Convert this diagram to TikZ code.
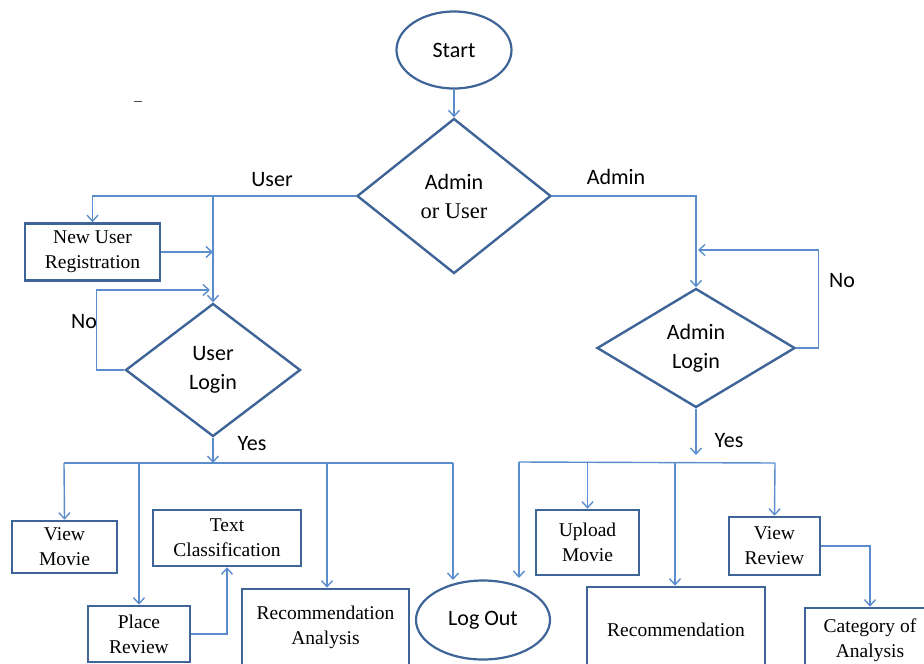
\documentclass[tikz,border=0pt]{standalone}
\usepackage{fontspec}
\setmainfont{Liberation Serif}
\newfontfamily\calib{Carlito}
\usetikzlibrary{shapes.geometric,arrows.meta}
\definecolor{boxblue}{RGB}{62,100,152}
\definecolor{lineblue}{RGB}{91,141,205}
\begin{document}
\begin{tikzpicture}[x=1pt,y=-1pt,
  box/.style={draw=boxblue,line width=2.6pt,rectangle,align=center,inner sep=0pt,font=\fontsize{19.5}{25}\selectfont},
  term/.style={draw=boxblue,line width=2.2pt,ellipse,inner sep=0pt,font=\calib\fontsize{22}{28}\selectfont},
  decide/.style={draw=boxblue,line width=2.4pt,diamond,inner sep=0pt,align=center,font=\calib\fontsize{22}{29}\selectfont},
  flow/.style={draw=lineblue,line width=1.4pt,-{Straight Barb[length=6pt,width=11pt]}},
  link/.style={draw=lineblue,line width=1.4pt},
  lbl/.style={font=\calib\fontsize{22}{26}\selectfont,inner sep=0pt}]
\useasboundingbox (0,0) rectangle (924,664);
\clip (0,0) rectangle (924,664);
\node[term,minimum width=115pt,minimum height=77pt] (start) at (454,50) {Start};
\node[decide,minimum width=194pt,minimum height=155pt] (usrchk) at (454,196) {Admin\\{\rmfamily\fontsize{22.5}{29}\selectfont or User}};
\node[box,minimum width=135pt,minimum height=57pt] (newreg) at (92.5,252) {New User\\Registration};
\node[decide,minimum width=175pt,minimum height=133pt] (ulogin) at (213,370) {User\\Login};
\node[decide,minimum width=198pt,minimum height=119pt] (alogin) at (696,348) {Admin\\Login};
\node[box,minimum width=105pt,minimum height=52pt] (vmovie) at (64.5,547) {View\\Movie};
\node[box,minimum width=148pt,minimum height=56pt] (txtcls) at (227,538) {Text\\Classification};
\node[box,minimum width=102pt,minimum height=56pt] (plrev) at (139,634) {Place\\Review};
\node[box,minimum width=167pt,minimum height=76pt] (recan) at (325.5,627) {Recommendation\\Analysis};
\node[term,minimum width=134pt,minimum height=79pt] (logout) at (483,620) {Log Out};
\node[box,minimum width=103pt,minimum height=65pt] (upmov) at (587.5,542.5) {Upload\\Movie};
\node[box,minimum width=178pt,minimum height=86pt] (recom) at (676,630) {Recommendation};
\node[box,minimum width=91pt,minimum height=58pt] (vrev) at (774.5,546) {View\\Review};
\node[box,minimum width=130pt,minimum height=64pt] (catan) at (870,640) {Category of\\Analysis};
\node[lbl] (userlbl) at (272,180) {User};
\node[lbl] (adminlbl) at (616,177) {Admin};
\node[lbl] (unolbl) at (84,322) {No};
\node[lbl] (anolbl) at (842,281) {No};
\node[lbl] (uyeslbl) at (252,444) {Yes};
\node[lbl] (ayeslbl) at (729,441) {Yes};
\coordinate (ujoin) at (213,196);
\coordinate (uback) at (210,290);
\coordinate (ubus) at (213,463);
\coordinate (ubusl) at (64,463);
\coordinate (ubusr) at (453,463);
\coordinate (u2) at (139,463);
\coordinate (u3) at (327,463);
\coordinate (lo1) at (453,580);
\coordinate (aback) at (698,250);
\coordinate (abus) at (696,455);
\coordinate (abusl) at (519,462);
\coordinate (abusr) at (775,463);
\coordinate (a2) at (587.5,462);
\coordinate (a3) at (675,462);
\coordinate (lo2) at (519,578);
\draw[flow] (start) -- (usrchk);
\draw[flow] (usrchk.west) -| (newreg.north);
\draw[flow] (ujoin) -- (ulogin.north);
\draw[flow] (newreg.east) -- (newreg.east -| ujoin);
\draw[flow] (ulogin.west) -- ++(-28,0) |- (uback);
\draw[flow] (ulogin.south) -- (ubus);
\draw[link] (ubusl) -- (ubusr);
\draw[flow] (ubusl) -- (vmovie.north);
\draw[flow] (u2) -- (plrev.north);
\draw[flow] (u3) -- (u3 |- recan.north);
\draw[flow] (ubusr) -- (lo1);
\draw[flow] (plrev.east) -| (txtcls.south);
\draw[flow] (usrchk.east) -| (alogin.north);
\draw[flow] (alogin.east) -- ++(22,0) |- (aback);
\draw[flow] (alogin.south) -- (abus);
\draw[link] (abusl) -- (abusr);
\draw[flow] (abusl) -- (lo2);
\draw[flow] (a2) -- (upmov.north);
\draw[flow] (a3) -- (a3 |- recom.north);
\draw[flow] (abusr) -- (vrev.north);
\draw[flow] (vrev.east) -| (catan.north);
\draw[black!70,line width=1pt] (134,101) -- (142,101);
\end{tikzpicture}
\end{document}
